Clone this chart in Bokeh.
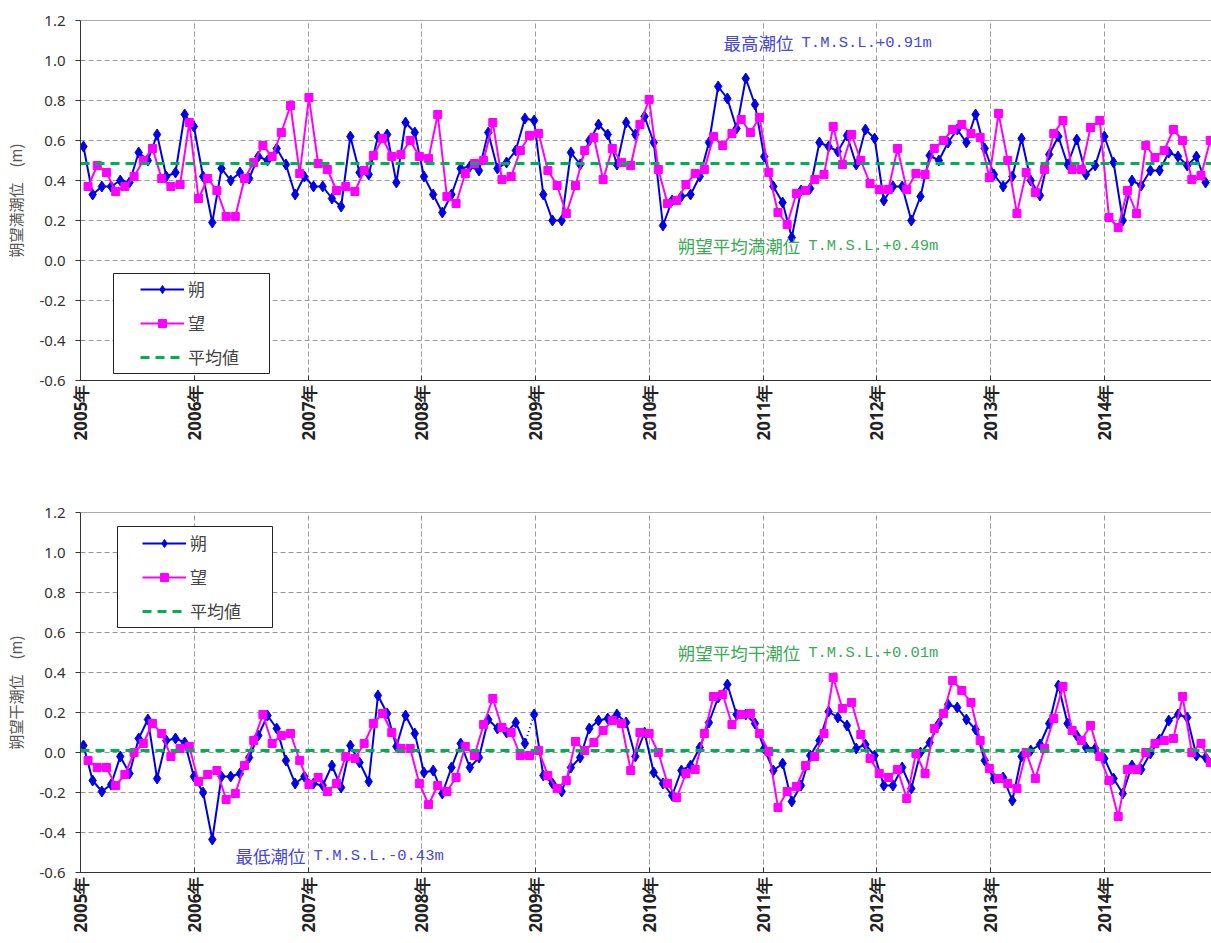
import math
import datetime as dt
from bokeh.plotting import figure
from bokeh.layouts import column
from bokeh.models import (FixedTicker, PrintfTickFormatter, Legend, LegendItem,
                          Label, Range1d, BoxAnnotation, Span)
from bokeh.embed import file_html
from bokeh.resources import INLINE

# ---------------- data ----------------
years = list(range(2005, 2015))
year_labels = [f"{y}年" for y in years]
y_ticks = [-0.6, -0.4, -0.2, 0.0, 0.2, 0.4, 0.6, 0.8, 1.0, 1.2]

# spring tides: 朔 (new moon) and 望 (full moon) dates
first_new_moon = dt.datetime(2005, 1, 10, 12, 0)
synodic_days = 29.530589

# 朔望満潮位 (m)
high_new = [
    0.57, 0.33, 0.37, 0.37, 0.40, 0.39, 0.54, 0.50, 0.63, 0.42,
    0.44, 0.73, 0.67, 0.42, 0.19, 0.46, 0.40, 0.44, 0.41, 0.52,
    0.50, 0.56, 0.48, 0.33, 0.42, 0.37, 0.37, 0.31, 0.27, 0.62,
    0.44, 0.43, 0.62, 0.63, 0.39, 0.69, 0.64, 0.42, 0.33, 0.24,
    0.33, 0.46, 0.47, 0.45, 0.64, 0.46, 0.49, 0.55, 0.71, 0.70,
    0.33, 0.20, 0.20, 0.54, 0.48, 0.60, 0.68, 0.63, 0.48, 0.69,
    0.63, 0.72, 0.59, 0.175, 0.30, 0.32, 0.33, 0.42, 0.59, 0.87,
    0.81, 0.66, 0.91, 0.78, 0.52, 0.37, 0.29, 0.115, 0.35, 0.36,
    0.59, 0.57, 0.545, 0.625, 0.48, 0.655, 0.61, 0.30, 0.37, 0.37,
    0.20, 0.32, 0.525, 0.50, 0.59, 0.655, 0.59, 0.73, 0.56, 0.43,
    0.37, 0.42, 0.61, 0.40, 0.325, 0.53, 0.62, 0.48, 0.605, 0.43,
    0.475, 0.62, 0.49, 0.20, 0.40, 0.375, 0.45, 0.45, 0.54, 0.52,
    0.475, 0.52, 0.39,
]
high_full = [
    0.37, 0.475, 0.44, 0.345, 0.37, 0.42, 0.50, 0.56, 0.41, 0.37,
    0.38, 0.69, 0.31, 0.41, 0.35, 0.22, 0.22, 0.41, 0.49, 0.575,
    0.52, 0.64, 0.775, 0.435, 0.815, 0.485, 0.455, 0.35, 0.37, 0.345,
    0.45, 0.525, 0.61, 0.52, 0.53, 0.60, 0.52, 0.51, 0.73, 0.32,
    0.285, 0.435, 0.485, 0.50, 0.69, 0.405, 0.42, 0.55, 0.625, 0.635,
    0.45, 0.375, 0.235, 0.375, 0.55, 0.615, 0.405, 0.56, 0.49, 0.475,
    0.68, 0.805, 0.455, 0.285, 0.30, 0.38, 0.435, 0.455, 0.62, 0.575,
    0.635, 0.705, 0.64, 0.715, 0.44, 0.24, 0.18, 0.335, 0.35, 0.405,
    0.43, 0.67, 0.48, 0.63, 0.50, 0.385, 0.355, 0.355, 0.56, 0.355,
    0.435, 0.43, 0.56, 0.60, 0.655, 0.68, 0.635, 0.615, 0.415, 0.735,
    0.50, 0.235, 0.44, 0.34, 0.455, 0.635, 0.70, 0.455, 0.455, 0.665,
    0.70, 0.215, 0.165, 0.35, 0.235, 0.575, 0.515, 0.55, 0.655, 0.60,
    0.405, 0.425, 0.60,
]
high_mean = 0.485

# 朔望干潮位 (m)
low_new = [
    0.035, -0.14, -0.195, -0.16, -0.02, -0.105, 0.07, 0.165, -0.13, 0.06,
    0.07, 0.05, -0.12, -0.20, -0.435, -0.12, -0.12, -0.105, -0.025, 0.085,
    0.185, 0.12, -0.04, -0.155, -0.12, -0.155, -0.165, -0.065, -0.175, 0.035,
    -0.05, -0.145, 0.285, 0.195, 0.03, 0.185, 0.095, -0.10, -0.09, -0.205,
    -0.075, 0.045, -0.075, -0.025, 0.165, 0.12, 0.10, 0.15, 0.045, 0.19,
    -0.115, -0.155, -0.195, -0.075, -0.025, 0.12, 0.16, 0.17, 0.19, 0.15,
    -0.02, 0.10, -0.10, -0.155, -0.215, -0.09, -0.065, 0.025, 0.15, 0.275,
    0.34, 0.19, 0.19, 0.145, 0.02, -0.09, -0.055, -0.245, -0.165, -0.015,
    0.06, 0.205, 0.175, 0.135, 0.02, 0.04, -0.015, -0.165, -0.165, -0.075,
    -0.18, 0.0, 0.05, 0.145, 0.24, 0.225, 0.165, 0.115, -0.04, -0.13,
    -0.125, -0.24, -0.02, 0.01, 0.04, 0.145, 0.335, 0.145, 0.085, 0.025,
    0.02, -0.03, -0.13, -0.205, -0.065, -0.085, -0.005, 0.065, 0.16, 0.19,
    0.175, -0.015, -0.025,
]
low_full = [
    -0.04, -0.075, -0.075, -0.165, -0.11, 0.0, 0.045, 0.145, 0.095, -0.02,
    0.02, 0.03, -0.145, -0.11, -0.09, -0.235, -0.205, -0.065, 0.06, 0.19,
    0.045, 0.085, 0.095, -0.04, -0.16, -0.125, -0.195, -0.155, -0.02, -0.03,
    0.045, 0.145, 0.195, 0.10, 0.02, 0.02, -0.155, -0.26, -0.165, -0.195,
    -0.125, 0.03, -0.015, 0.14, 0.27, 0.125, 0.10, -0.015, -0.015, 0.01,
    -0.115, -0.18, -0.14, 0.055, 0.01, 0.05, 0.11, 0.16, 0.145, -0.09,
    0.10, 0.095, 0.0, -0.155, -0.225, -0.105, -0.085, 0.095, 0.28, 0.29,
    0.14, 0.19, 0.195, 0.095, 0.005, -0.275, -0.195, -0.17, -0.065, -0.02,
    0.095, 0.375, 0.22, 0.25, 0.09, -0.03, -0.105, -0.125, -0.085, -0.23,
    -0.005, -0.105, 0.12, 0.195, 0.36, 0.31, 0.25, 0.06, -0.08, -0.13,
    -0.155, -0.18, 0.0, -0.13, 0.02, 0.17, 0.33, 0.11, 0.06, 0.135,
    -0.02, -0.14, -0.32, -0.085, -0.085, 0.0, 0.045, 0.06, 0.07, 0.28,
    0.0, 0.045, -0.05,
]
low_mean = 0.01
low_dotted_after = 48   # segment of 朔 drawn dotted (index -> index+1)

# ---------------- helpers ----------------
def frac_year(d):
    s = dt.datetime(d.year, 1, 1)
    e = dt.datetime(d.year + 1, 1, 1)
    return d.year + (d - s) / (e - s)

new_x = [frac_year(first_new_moon + dt.timedelta(days=synodic_days * i))
         for i in range(len(high_new))]
full_x = [frac_year(first_new_moon + dt.timedelta(days=synodic_days * (i + 0.5)))
          for i in range(len(high_full))]

BLUE = "#0000e6"
PINK = "#ff00ff"
GREEN = "#00b050"
W = 1211
LEFT = 80
PX_PER_YEAR = 113.75
X_END = 2005 + (W - LEFT) / PX_PER_YEAR
CJK_SIZE = 17.5


def make_panel(new_vals, full_vals, mean_val, ylabel, height, top, bottom,
               box, legend_loc, labels, dotted_after=None):
    p = figure(width=W, height=height, x_range=Range1d(2005, X_END),
               y_range=Range1d(-0.6, 1.2), output_backend="svg",
               toolbar_location=None, min_border_left=LEFT, min_border_right=0,
               min_border_top=top, min_border_bottom=bottom)
    p.outline_line_color = None
    p.background_fill_color = "white"
    p.border_fill_color = "white"

    # axes
    p.xaxis.ticker = FixedTicker(ticks=years)
    p.xaxis.major_label_overrides = {y: lab for y, lab in zip(years, year_labels)}
    p.xaxis.major_label_orientation = math.pi / 2
    p.xaxis.major_label_text_font = "Noto Sans"
    p.xaxis.major_label_text_font_style = "bold"
    p.xaxis.major_label_text_font_size = "17px"
    p.xaxis.major_label_text_color = "#222222"
    p.xaxis.major_label_standoff = 4
    p.xaxis.major_tick_in = 5
    p.xaxis.major_tick_out = 0
    p.xaxis.minor_tick_line_color = None
    p.xaxis.axis_line_color = "#333333"
    p.xaxis.major_tick_line_color = "#333333"

    p.yaxis.ticker = FixedTicker(ticks=y_ticks)
    p.yaxis.formatter = PrintfTickFormatter(format="%.1f")
    p.yaxis.major_label_text_font = "Noto Sans"
    p.yaxis.major_label_text_font_size = "15px"
    p.yaxis.major_label_text_color = "#333333"
    p.yaxis.major_label_standoff = 10
    p.yaxis.major_tick_in = 0
    p.yaxis.major_tick_out = 5
    p.yaxis.minor_tick_line_color = None
    p.yaxis.axis_line_color = "#333333"
    p.yaxis.major_tick_line_color = "#333333"
    p.yaxis.axis_label = ylabel
    p.yaxis.axis_label_text_font = "Noto Sans CJK JP"
    p.yaxis.axis_label_text_font_style = "normal"
    p.yaxis.axis_label_text_font_size = "15px"
    p.yaxis.axis_label_text_color = "#555555"
    p.yaxis.axis_label_standoff = 10

    for g in (p.xgrid, p.ygrid):
        g.grid_line_color = "#9a9a9a"
        g.grid_line_dash = "5 3"
        g.grid_line_width = 1
    p.add_layout(Span(location=1.2, dimension="width", line_color="#555555",
                      line_width=1))

    # series
    if dotted_after is None:
        l1 = p.line(new_x, new_vals, line_color=BLUE, line_width=2)
    else:
        k = dotted_after
        l1 = p.line(new_x[:k + 1], new_vals[:k + 1], line_color=BLUE, line_width=2)
        p.line(new_x[k + 1:], new_vals[k + 1:], line_color=BLUE, line_width=2)
        p.line(new_x[k:k + 2], new_vals[k:k + 2], line_color=BLUE,
               line_width=2, line_dash="1 3")
    s1 = p.scatter(new_x, new_vals, marker="diamond", size=11,
                   fill_color=BLUE, line_color=BLUE)
    l2 = p.line(full_x, full_vals, line_color=PINK, line_width=2)
    s2 = p.scatter(full_x, full_vals, marker="square", size=8,
                   fill_color=PINK, line_color=PINK)
    lm = p.line([2005, X_END], [mean_val, mean_val], line_color=GREEN,
                line_width=3, line_dash="9 6")

    # legend box + legend
    bl, br, bb, bt = box
    p.add_layout(BoxAnnotation(left=bl, right=br, bottom=bb, top=bt,
                               left_units="screen", right_units="screen",
                               bottom_units="screen", top_units="screen",
                               fill_color="white", fill_alpha=1.0,
                               line_color="#222222", line_width=1, line_alpha=1.0))
    legend = Legend(items=[LegendItem(label="朔", renderers=[l1, s1]),
                           LegendItem(label="望", renderers=[l2, s2]),
                           LegendItem(label="平均値", renderers=[lm])],
                    location=legend_loc, orientation="vertical",
                    label_text_font="Noto Sans CJK JP",
                    label_text_font_size="17px", label_text_color="#444444",
                    glyph_width=44, glyph_height=20, spacing=9, padding=5,
                    margin=0, label_standoff=4,
                    border_line_color=None, background_fill_alpha=0.0)
    p.add_layout(legend)

    # annotation texts: Japanese part + half-width "T.M.S.L." part
    for (tx, ty, jp, latin, color) in labels:
        p.add_layout(Label(x=tx, y=ty, text=jp, text_font="Noto Sans CJK JP",
                           text_font_size=f"{CJK_SIZE}px", text_color=color,
                           text_baseline="middle", text_align="left"))
        p.add_layout(Label(x=tx, y=ty, text=latin, text_font="Liberation Mono",
                           x_offset=len(jp) * CJK_SIZE + 8,
                           text_font_size="15.5px", text_color=color,
                           text_baseline="middle", text_align="left"))
    return p


TXT_BLUE = "#4646e0"
TXT_GREEN = "#3caa55"

p1 = make_panel(high_new, high_full, high_mean, "朔望満潮位　(m)",
                height=500, top=20, bottom=120,
                box=(33, 189, 7, 107), legend_loc=(60, 11),
                labels=[(2010.653, 1.09, "最高潮位", "T.M.S.L.+0.91m", TXT_BLUE),
                        (2010.25, 0.075, "朔望平均満潮位", "T.M.S.L.+0.49m", TXT_GREEN)])
p2 = make_panel(low_new, low_full, low_mean, "朔望干潮位　(m)",
                height=442, top=12, bottom=70,
                box=(37, 192, 245, 346), legend_loc=(62, 249),
                labels=[(2010.25, 0.50, "朔望平均干潮位", "T.M.S.L.+0.01m", TXT_GREEN),
                        (2006.363, -0.515, "最低潮位", "T.M.S.L.-0.43m", TXT_BLUE)],
                dotted_after=low_dotted_after)

layout = column(p1, p2, spacing=0)
open("out.html", "w").write(file_html(layout, INLINE))
